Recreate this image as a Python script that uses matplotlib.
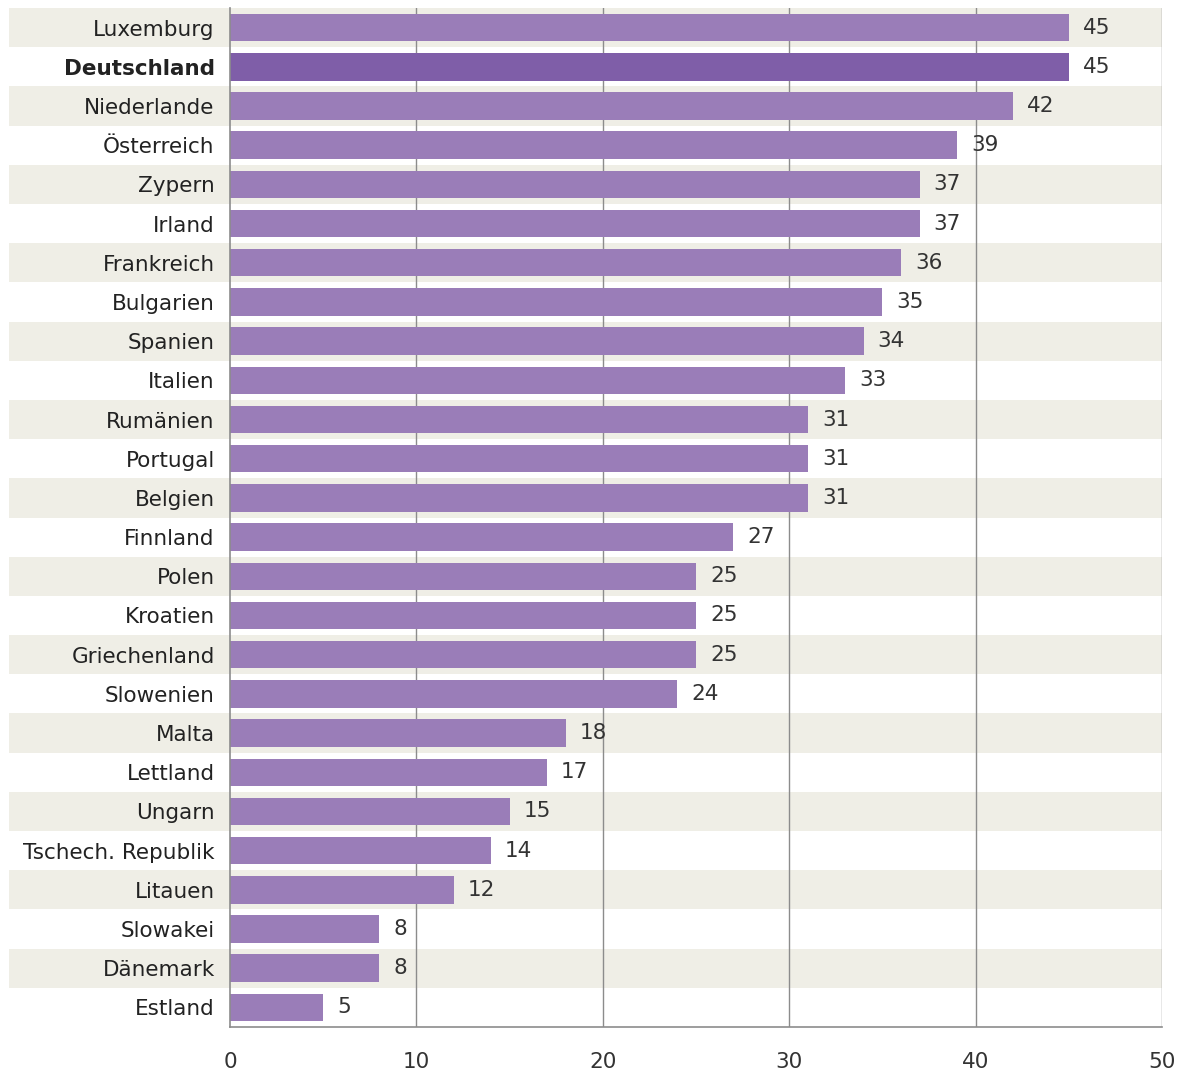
import numpy as np
import matplotlib.pyplot as plt

countries = ['Luxemburg', 'Deutschland', 'Niederlande', 'Österreich', 'Zypern', 'Irland',
             'Frankreich', 'Bulgarien', 'Spanien', 'Italien', 'Rumänien', 'Portugal',
             'Belgien', 'Finnland', 'Polen', 'Kroatien', 'Griechenland', 'Slowenien',
             'Malta', 'Lettland', 'Ungarn', 'Tschech. Republik', 'Litauen', 'Slowakei',
             'Dänemark', 'Estland']
values = [45, 45, 42, 39, 37, 37, 36, 35, 34, 33, 31, 31, 31, 27, 25, 25, 25, 24,
          18, 17, 15, 14, 12, 8, 8, 5]
xticks = [0, 10, 20, 30, 40, 50]

bar_col = '#9a7db8'
hi_col = '#7f5ea8'
stripe_col = '#efeee6'
grid_col = '#8c8c8c'
text_col = '#333333'

plt.rcParams['font.family'] = 'DejaVu Sans'
fs = 15.5

fig = plt.figure(figsize=(11.89, 10.72), dpi=100)
ax = fig.add_axes([230/1189, 1-1027/1072, 932/1189, (1027-8)/1072])

n = len(countries)
ypos = np.arange(n)

# alternating stripes, running into the label area
for i in range(0, n, 2):
  ax.axhspan(i-0.5, i+0.5, xmin=-221/932, xmax=1, color=stripe_col, lw=0,
             clip_on=False, zorder=0)

for x in xticks[1:]:
  ax.axvline(x, color=grid_col, lw=1, zorder=1)

colors = [hi_col if c == 'Deutschland' else bar_col for c in countries]
ax.barh(ypos, values, height=0.7, color=colors, zorder=2)

for y, v in zip(ypos, values):
  ax.text(v+0.75, y, str(v), va='center', ha='left', fontsize=fs, color=text_col, zorder=3)

ax.set_xlim(0, 50)
ax.set_ylim(n-0.5, -0.5)
ax.set_yticks(ypos)
ax.set_yticklabels(countries, fontsize=fs, color='#222222')
for lbl in ax.get_yticklabels():
  if lbl.get_text() == 'Deutschland':
    lbl.set_fontweight('bold')
ax.set_xticks(xticks)
ax.set_xticklabels([str(x) for x in xticks], fontsize=fs, color=text_col)
ax.tick_params(axis='y', length=0, pad=11)
ax.tick_params(axis='x', length=0, pad=18)

for s in ['top', 'right']:
  ax.spines[s].set_visible(False)
for s in ['left', 'bottom']:
  ax.spines[s].set_color(grid_col)
  ax.spines[s].set_linewidth(1.2)
  ax.spines[s].set_zorder(4)
ax.patch.set_alpha(0)

fig.savefig('out.png', dpi=100)
